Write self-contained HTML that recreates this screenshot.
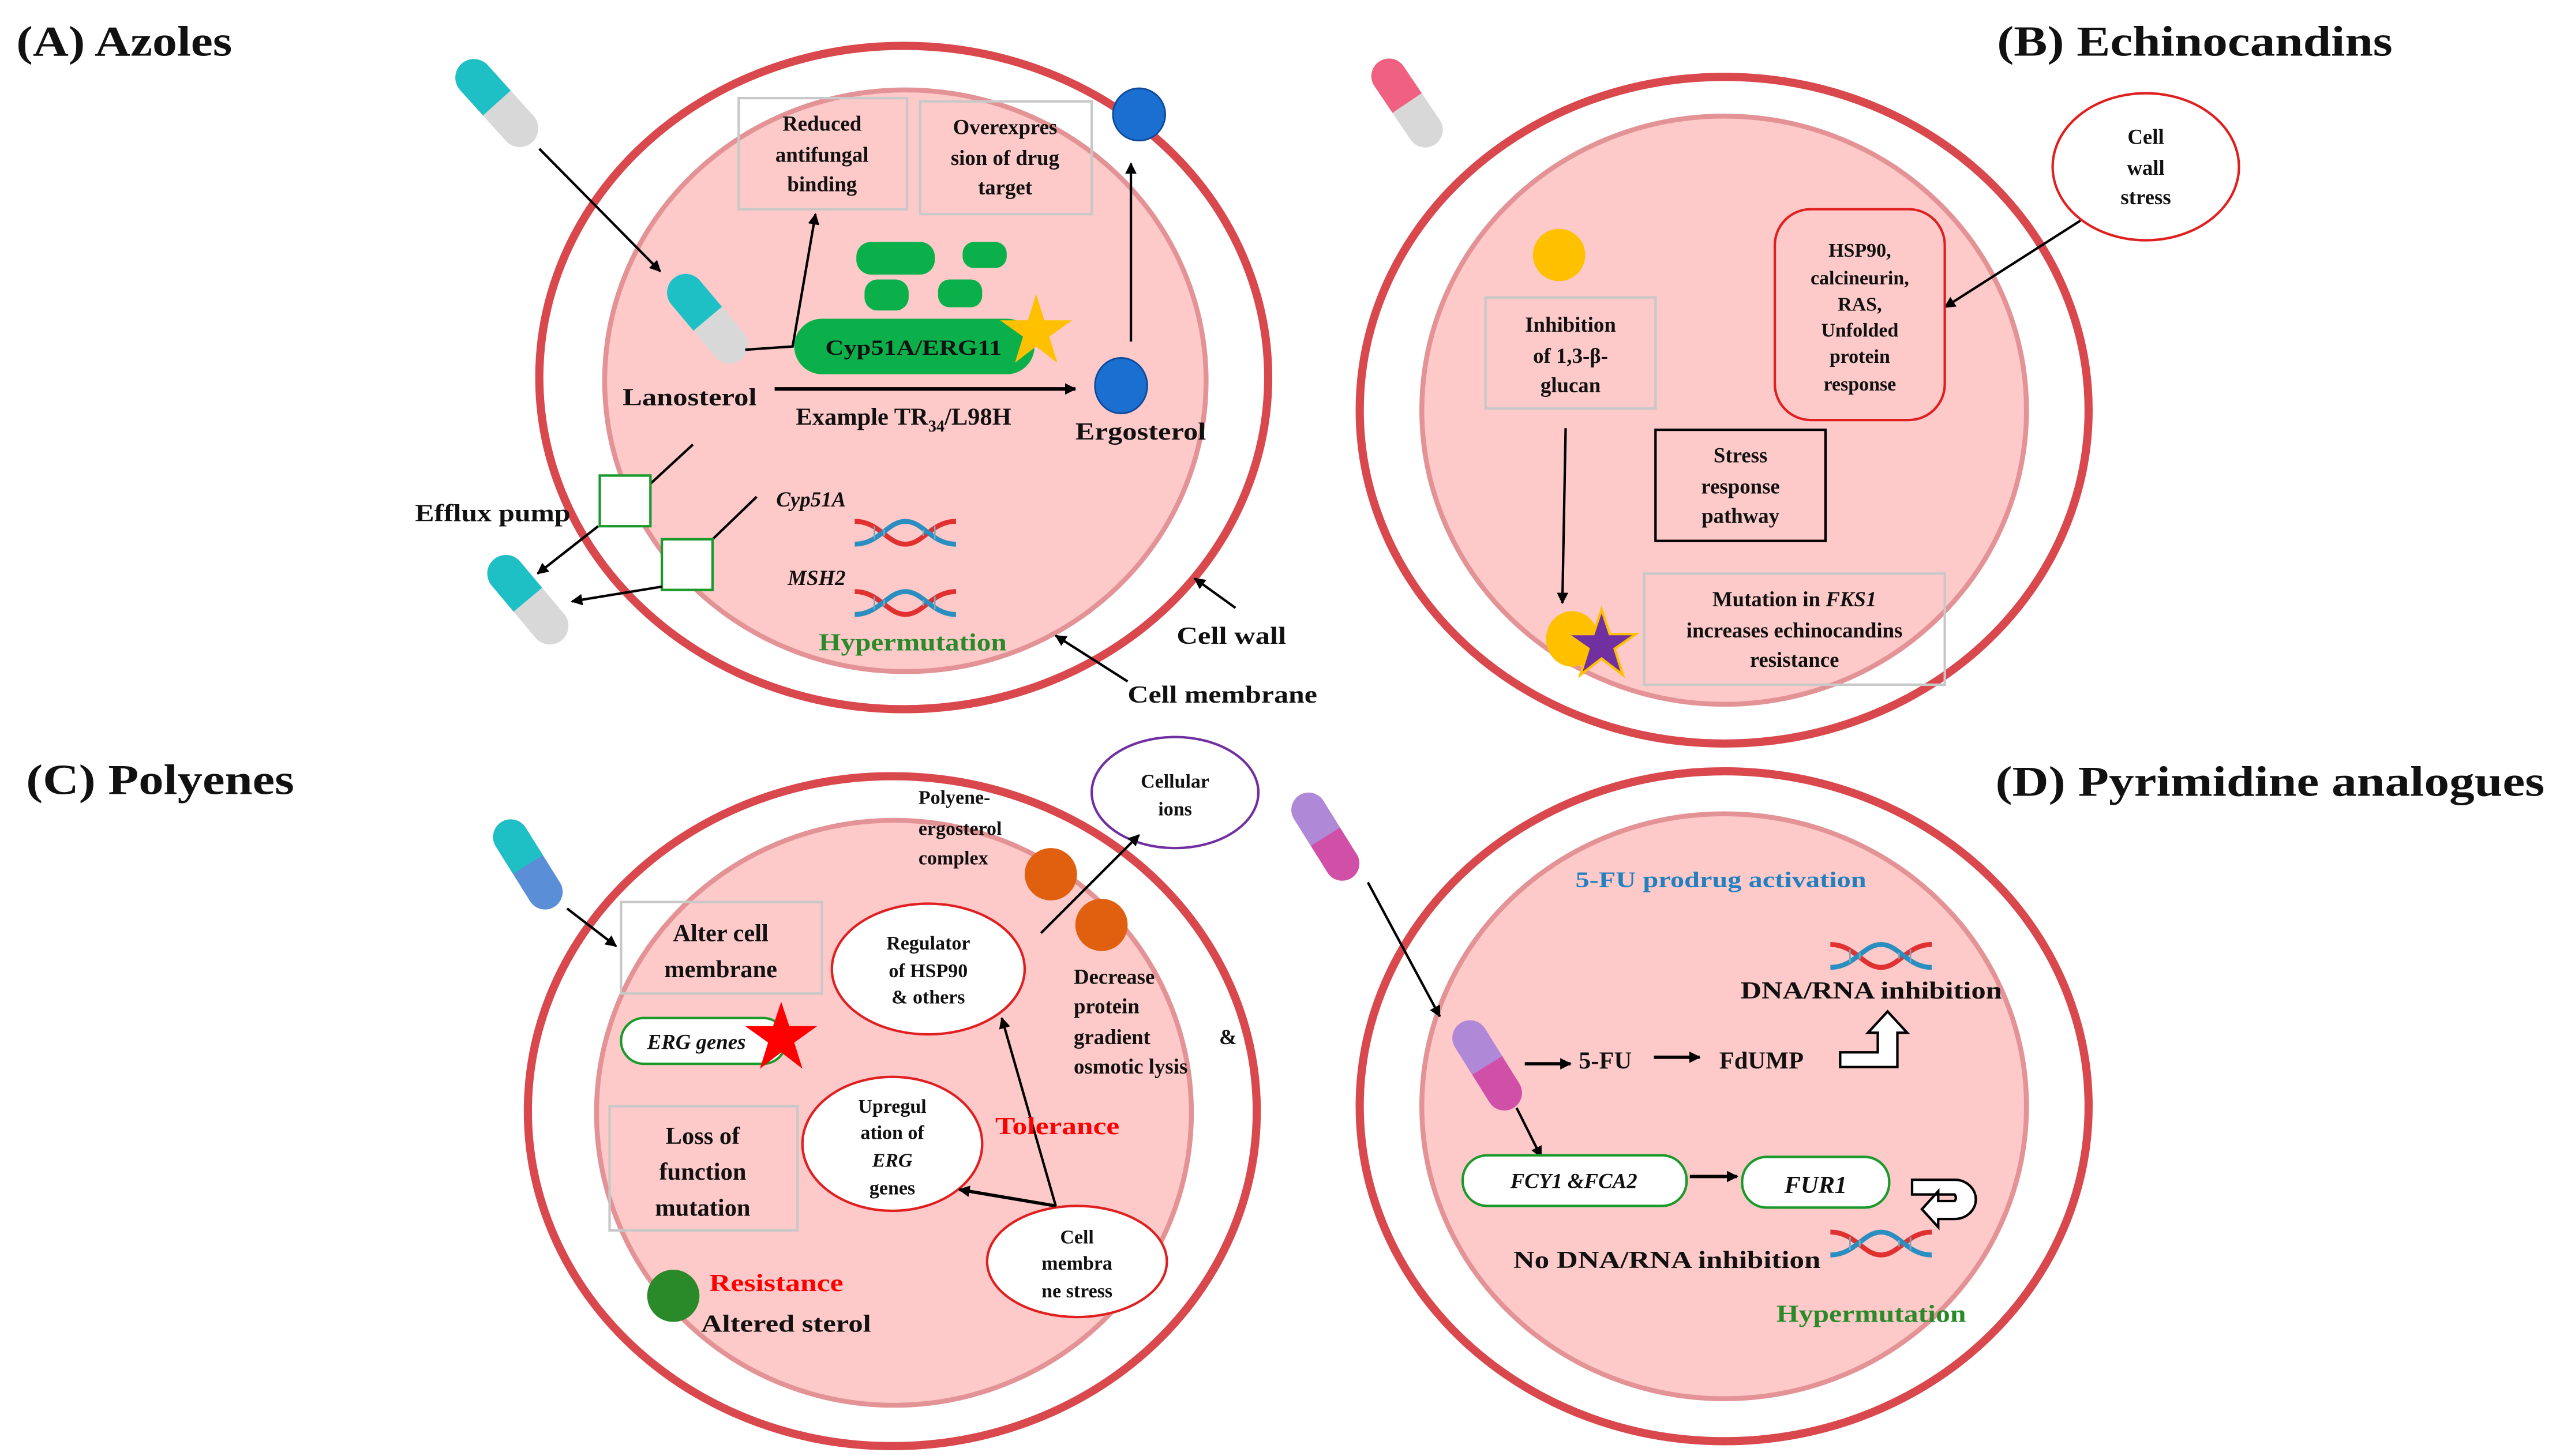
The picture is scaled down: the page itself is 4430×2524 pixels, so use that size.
<!DOCTYPE html>
<html><head><meta charset="utf-8"><style>
html,body{margin:0;padding:0;background:#fff}
svg{display:block}
text{font-family:"Liberation Serif",serif;font-weight:bold;fill:#111}
.t{font-size:26px}
.l{font-size:15px}
.s{font-size:13px}
.it{font-style:italic}
</style></head><body>
<svg width="4430" height="2524" viewBox="0 0 1564 891" xmlns="http://www.w3.org/2000/svg">
<defs>
<marker id="ah" viewBox="0 0 10 10" refX="9" refY="5" markerWidth="7" markerHeight="7" orient="auto-start-reverse" markerUnits="userSpaceOnUse"><path d="M0,0 L10,5 L0,10 z" fill="#000"/></marker>
<g id="dna">
<path d="M0,2 C15,2 20,16 31,16 C42,16 47,2 62,2" fill="none" stroke="#e03030" stroke-width="3"/>
<path d="M0,16 C15,16 20,2 31,2 C42,2 47,16 62,16" fill="none" stroke="#2a8fc0" stroke-width="3"/>
<g stroke="#7ab" stroke-width="1"><line x1="12" y1="5" x2="12" y2="13"/><line x1="18" y1="7" x2="18" y2="11"/><line x1="42" y1="7" x2="42" y2="11"/><line x1="49" y1="5" x2="49" y2="13"/></g>
</g>
<g id="pillT"><rect x="-34" y="-12" width="68" height="24" rx="12" fill="#d8d8d8"/><path d="M0,-12 H-22 A12,12 0 0 0 -22,12 H0 z" fill="#1fc0c5"/></g>
<g id="pillP"><rect x="-34" y="-12" width="68" height="24" rx="12" fill="#d8d8d8"/><path d="M0,-12 H-22 A12,12 0 0 0 -22,12 H0 z" fill="#f06080"/></g>
<g id="pillB"><rect x="-34" y="-12" width="68" height="24" rx="12" fill="#5a8fd8"/><path d="M0,-12 H-22 A12,12 0 0 0 -22,12 H0 z" fill="#1fc0c5"/></g>
<g id="pillV"><rect x="-34" y="-12" width="68" height="24" rx="12" fill="#d050a8"/><path d="M0,-12 H-22 A12,12 0 0 0 -22,12 H0 z" fill="#b088d8"/></g>
</defs>

<!-- ===== Panel A ===== -->
<text class="t" x="10" y="34" textLength="132" lengthAdjust="spacingAndGlyphs">(A) Azoles</text>
<ellipse cx="553" cy="231" rx="223" ry="203" fill="#fff" stroke="#d9484d" stroke-width="5"/>
<ellipse cx="554" cy="233" rx="184" ry="178" fill="#fdc9c9" stroke="#e39395" stroke-width="3"/>
<use href="#pillT" transform="translate(304,63) rotate(48) scale(0.95)"/>
<line x1="330" y1="91" x2="404" y2="166" stroke="#000" stroke-width="1.5" marker-end="url(#ah)"/>
<use href="#pillT" transform="translate(433,195) rotate(50) scale(0.95)"/>
<polyline points="456,214 485,212 499,131" fill="none" stroke="#000" stroke-width="1.5" marker-end="url(#ah)"/>
<rect x="452" y="60" width="103" height="68" fill="none" stroke="#c8c8c8" stroke-width="1.5"/>
<text class="s" text-anchor="middle"><tspan x="503" y="80">Reduced</tspan><tspan x="503" y="99">antifungal</tspan><tspan x="503" y="117">binding</tspan></text>
<rect x="563" y="62" width="105" height="69" fill="none" stroke="#c8c8c8" stroke-width="1.5"/>
<text class="s" text-anchor="middle"><tspan x="615" y="82">Overexpres</tspan><tspan x="615" y="101">sion of drug</tspan><tspan x="615" y="119">target</tspan></text>
<circle cx="697" cy="70" r="16" fill="#1a6fd0" stroke="#0d4a9a" stroke-width="1"/>
<rect x="524" y="148" width="48" height="20" rx="9" fill="#0bb04a"/>
<rect x="589" y="148" width="27" height="16" rx="7" fill="#0bb04a"/>
<rect x="529" y="171" width="27" height="19" rx="8" fill="#0bb04a"/>
<rect x="574" y="171" width="27" height="17" rx="7" fill="#0bb04a"/>
<rect x="486" y="195" width="147" height="34" rx="17" fill="#0bb04a"/>
<text class="s" x="505" y="217" textLength="108" lengthAdjust="spacingAndGlyphs">Cyp51A/ERG11</text>
<polygon points="634,180 639,196 656,196 642,206 647,222 634,212 621,222 626,206 612,196 629,196" fill="#ffc000"/>
<line x1="474" y1="238" x2="658" y2="238" stroke="#000" stroke-width="2.2" marker-end="url(#ah)"/>
<ellipse cx="686" cy="236" rx="16" ry="17" fill="#1a6fd0" stroke="#0d4a9a" stroke-width="1"/>
<line x1="692" y1="209" x2="692" y2="100" stroke="#000" stroke-width="1.5" marker-end="url(#ah)"/>
<text class="l" x="381" y="248" textLength="82" lengthAdjust="spacingAndGlyphs">Lanosterol</text>
<text class="l" x="487" y="260">Example TR<tspan font-size="10" dy="4">34</tspan><tspan dy="-4">/L98H</tspan></text>
<text class="l" x="658" y="269" textLength="80" lengthAdjust="spacingAndGlyphs">Ergosterol</text>
<line x1="424" y1="272" x2="398" y2="296" stroke="#000" stroke-width="1.5"/>
<rect x="367" y="291" width="31" height="31" fill="#fff" stroke="#1a9a2a" stroke-width="1.5"/>
<line x1="463" y1="304" x2="436" y2="330" stroke="#000" stroke-width="1.5"/>
<rect x="405" y="330" width="31" height="31" fill="#fff" stroke="#1a9a2a" stroke-width="1.5"/>
<text class="l" x="254" y="319" textLength="95" lengthAdjust="spacingAndGlyphs">Efflux pump</text>
<line x1="366" y1="322" x2="329" y2="351" stroke="#000" stroke-width="1.5" marker-end="url(#ah)"/>
<line x1="405" y1="359" x2="350" y2="368" stroke="#000" stroke-width="1.5" marker-end="url(#ah)"/>
<use href="#pillT" transform="translate(323,367) rotate(50) scale(0.95)"/>
<text class="s it" x="475" y="310">Cyp51A</text>
<use href="#dna" transform="translate(523,317)"/>
<text class="s it" x="482" y="358">MSH2</text>
<use href="#dna" transform="translate(523,360)"/>
<text class="l" x="501" y="398" textLength="115" lengthAdjust="spacingAndGlyphs" style="fill:#2a8a2a">Hypermutation</text>
<line x1="756" y1="372" x2="731" y2="354" stroke="#000" stroke-width="1.5" marker-end="url(#ah)"/>
<text class="l" x="720" y="394" textLength="67" lengthAdjust="spacingAndGlyphs">Cell wall</text>
<line x1="690" y1="417" x2="646" y2="389" stroke="#000" stroke-width="1.5" marker-end="url(#ah)"/>
<text class="l" x="690" y="430" textLength="116" lengthAdjust="spacingAndGlyphs">Cell membrane</text>

<!-- ===== Panel B ===== -->
<text class="t" x="1222" y="34" textLength="242" lengthAdjust="spacingAndGlyphs">(B) Echinocandins</text>
<ellipse cx="1055" cy="251" rx="223" ry="204" fill="#fff" stroke="#d9484d" stroke-width="5"/>
<ellipse cx="1055" cy="251" rx="185" ry="180" fill="#fdc9c9" stroke="#e39395" stroke-width="3"/>
<use href="#pillP" transform="translate(861,63) rotate(56) scale(0.9)"/>
<ellipse cx="1313" cy="102" rx="57" ry="45" fill="#fff" stroke="#e02020" stroke-width="1.5"/>
<text class="s" text-anchor="middle"><tspan x="1313" y="88">Cell</tspan><tspan x="1313" y="107">wall</tspan><tspan x="1313" y="125">stress</tspan></text>
<line x1="1273" y1="135" x2="1190" y2="188" stroke="#000" stroke-width="1.5" marker-end="url(#ah)"/>
<rect x="1086" y="128" width="104" height="129" rx="22" fill="none" stroke="#e02020" stroke-width="1.5"/>
<text font-size="12" text-anchor="middle"><tspan x="1138" y="157">HSP90,</tspan><tspan x="1138" y="174">calcineurin,</tspan><tspan x="1138" y="190">RAS,</tspan><tspan x="1138" y="206">Unfolded</tspan><tspan x="1138" y="222">protein</tspan><tspan x="1138" y="239">response</tspan></text>
<ellipse cx="954" cy="156" rx="16" ry="16" fill="#ffc000"/>
<rect x="909" y="182" width="104" height="68" fill="none" stroke="#c8c8c8" stroke-width="1.5"/>
<text class="s" text-anchor="middle"><tspan x="961" y="203">Inhibition</tspan><tspan x="961" y="222">of 1,3-β-</tspan><tspan x="961" y="240">glucan</tspan></text>
<rect x="1013" y="263" width="104" height="68" fill="none" stroke="#000" stroke-width="1.5"/>
<text class="s" text-anchor="middle"><tspan x="1065" y="283">Stress</tspan><tspan x="1065" y="302">response</tspan><tspan x="1065" y="320">pathway</tspan></text>
<line x1="958" y1="262" x2="956" y2="369" stroke="#000" stroke-width="1.5" marker-end="url(#ah)"/>
<ellipse cx="962" cy="391" rx="16" ry="17" fill="#ffc000"/>
<polygon points="980,373 985,388 1001,388 988,397 993,413 980,403 967,413 972,397 959,388 975,388" fill="#7030a0" stroke="#ffc000" stroke-width="1.5"/>
<rect x="1006" y="351" width="184" height="68" fill="none" stroke="#c8c8c8" stroke-width="1.5"/>
<text class="s" text-anchor="middle"><tspan x="1098" y="371">Mutation in <tspan font-style="italic">FKS1</tspan></tspan><tspan x="1098" y="390">increases echinocandins</tspan><tspan x="1098" y="408">resistance</tspan></text>

<!-- ===== Panel C ===== -->
<text class="t" x="16" y="486" textLength="164" lengthAdjust="spacingAndGlyphs">(C) Polyenes</text>
<ellipse cx="546" cy="680" rx="223" ry="205" fill="#fff" stroke="#d9484d" stroke-width="5"/>
<ellipse cx="547" cy="681" rx="182" ry="179" fill="#fdc9c9" stroke="#e39395" stroke-width="3"/>
<use href="#pillB" transform="translate(323,529) rotate(58) scale(0.9)"/>
<line x1="347" y1="556" x2="377" y2="579" stroke="#000" stroke-width="1.5" marker-end="url(#ah)"/>
<rect x="380" y="552" width="123" height="56" fill="none" stroke="#c8c8c8" stroke-width="1.5"/>
<text class="l" text-anchor="middle"><tspan x="441" y="576">Alter cell</tspan><tspan x="441" y="598">membrane</tspan></text>
<rect x="380" y="623" width="101" height="28" rx="14" fill="#fff" stroke="#1a9a2a" stroke-width="1.5"/>
<text class="s it" x="396" y="642">ERG genes</text>
<polygon points="478,613 483,628 500,628 486,638 491,654 478,644 465,654 470,638 456,628 473,628" fill="#ff0000"/>
<rect x="373" y="677" width="115" height="76" fill="none" stroke="#c8c8c8" stroke-width="1.5"/>
<text class="l" text-anchor="middle"><tspan x="430" y="700">Loss of</tspan><tspan x="430" y="722">function</tspan><tspan x="430" y="744">mutation</tspan></text>
<ellipse cx="568" cy="593" rx="59" ry="40" fill="#fff" stroke="#e02020" stroke-width="1.5"/>
<text font-size="12" text-anchor="middle"><tspan x="568" y="581">Regulator</tspan><tspan x="568" y="598">of HSP90</tspan><tspan x="568" y="614">&amp; others</tspan></text>
<ellipse cx="546" cy="700" rx="55" ry="41" fill="#fff" stroke="#e02020" stroke-width="1.5"/>
<text font-size="12" text-anchor="middle"><tspan x="546" y="681">Upregul</tspan><tspan x="546" y="697">ation of</tspan><tspan x="546" y="714" font-style="italic">ERG</tspan><tspan x="546" y="731">genes</tspan></text>
<ellipse cx="659" cy="772" rx="55" ry="34" fill="#fff" stroke="#e02020" stroke-width="1.5"/>
<text font-size="12" text-anchor="middle"><tspan x="659" y="761">Cell</tspan><tspan x="659" y="777">membra</tspan><tspan x="659" y="794">ne stress</tspan></text>
<line x1="646" y1="738" x2="613" y2="623" stroke="#000" stroke-width="1.5" marker-end="url(#ah)"/>
<line x1="646" y1="738" x2="587" y2="728" stroke="#000" stroke-width="2" marker-end="url(#ah)"/>
<ellipse cx="719" cy="485" rx="51" ry="34" fill="#fff" stroke="#7030a0" stroke-width="1.5"/>
<text font-size="12" text-anchor="middle"><tspan x="719" y="482">Cellular</tspan><tspan x="719" y="499">ions</tspan></text>
<text font-size="12"><tspan x="562" y="492">Polyene-</tspan><tspan x="562" y="511">ergosterol</tspan><tspan x="562" y="529">complex</tspan></text>
<ellipse cx="643" cy="535" rx="16" ry="16" fill="#e06010"/>
<ellipse cx="674" cy="566" rx="16" ry="16" fill="#e06010"/>
<line x1="637" y1="571" x2="697" y2="511" stroke="#000" stroke-width="1.5" marker-end="url(#ah)"/>
<text font-size="13"><tspan x="657" y="602">Decrease</tspan><tspan x="657" y="620">protein</tspan><tspan x="657" y="639">gradient</tspan><tspan x="746" y="639">&amp;</tspan><tspan x="657" y="657">osmotic lysis</tspan></text>
<text class="l" x="609" y="694" textLength="76" lengthAdjust="spacingAndGlyphs" style="fill:#ff0000">Tolerance</text>
<text class="l" x="434" y="790" textLength="82" lengthAdjust="spacingAndGlyphs" style="fill:#ff0000">Resistance</text>
<ellipse cx="412" cy="793" rx="16" ry="16" fill="#2a8a2a"/>
<text class="l" x="429" y="815" textLength="104" lengthAdjust="spacingAndGlyphs">Altered sterol</text>

<!-- ===== Panel D ===== -->
<text class="t" x="1221" y="487" textLength="336" lengthAdjust="spacingAndGlyphs">(D) Pyrimidine analogues</text>
<ellipse cx="1055" cy="677" rx="223" ry="205" fill="#fff" stroke="#d9484d" stroke-width="5"/>
<ellipse cx="1055" cy="677" rx="185" ry="179" fill="#fdc9c9" stroke="#e39395" stroke-width="3"/>
<use href="#pillV" transform="translate(811,512) rotate(58) scale(0.88)"/>
<line x1="837" y1="540" x2="881" y2="622" stroke="#000" stroke-width="1.5" marker-end="url(#ah)"/>
<use href="#pillV" transform="translate(910,652) rotate(58) scale(0.9)"/>
<text font-size="14" x="964" y="543" textLength="178" lengthAdjust="spacingAndGlyphs" style="fill:#2080c0">5-FU prodrug activation</text>
<use href="#dna" transform="translate(1120,576)"/>
<text class="l" x="1065" y="611" textLength="160" lengthAdjust="spacingAndGlyphs">DNA/RNA inhibition</text>
<line x1="933" y1="651" x2="961" y2="651" stroke="#000" stroke-width="2" marker-end="url(#ah)"/>
<text class="l" x="966" y="654">5-FU</text>
<line x1="1012" y1="647" x2="1040" y2="647" stroke="#000" stroke-width="2" marker-end="url(#ah)"/>
<text class="l" x="1052" y="654">FdUMP</text>
<path d="M1126,644 H1149 V632 H1143 L1155,619 L1167,632 H1161 V653 H1126 z" fill="#fff" stroke="#000" stroke-width="1.5"/>
<line x1="928" y1="678" x2="943" y2="708" stroke="#000" stroke-width="1.5" marker-end="url(#ah)"/>
<rect x="895" y="707" width="137" height="31" rx="15" fill="#fff" stroke="#1a9a2a" stroke-width="1.5"/>
<text class="s it" x="963" y="727" text-anchor="middle">FCY1 &amp;FCA2</text>
<line x1="1034" y1="720" x2="1063" y2="720" stroke="#000" stroke-width="2" marker-end="url(#ah)"/>
<rect x="1066" y="708" width="90" height="31" rx="15" fill="#fff" stroke="#1a9a2a" stroke-width="1.5"/>
<text class="l it" x="1111" y="730" text-anchor="middle">FUR1</text>
<path d="M1170,722 H1196 A13,12 0 0 1 1196,746 H1186 V751 L1176,740 L1186,729 V735 H1196 A3,3 0 0 0 1196,731 H1170 z" fill="#fff" stroke="#000" stroke-width="1.5"/>
<text class="l" x="926" y="776" textLength="188" lengthAdjust="spacingAndGlyphs">No DNA/RNA inhibition</text>
<use href="#dna" transform="translate(1120,752)"/>
<text class="l" x="1087" y="809" textLength="116" lengthAdjust="spacingAndGlyphs" style="fill:#2a8a2a">Hypermutation</text>
</svg>
</body></html>
